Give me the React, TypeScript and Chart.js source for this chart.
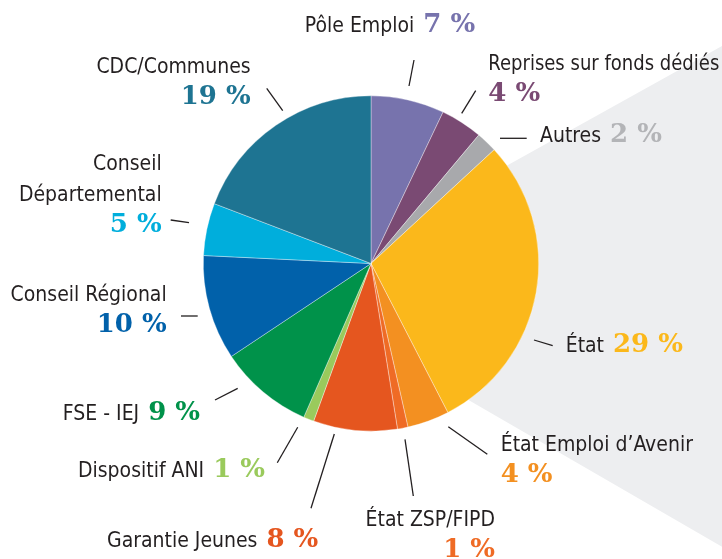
import React, { useEffect, useRef } from "react";
import { Chart, registerables } from "chart.js";

Chart.register(...registerables);

const categories = [
  "Pôle Emploi",
  "Reprises sur fonds dédiés",
  "Autres",
  "État",
  "État Emploi d’Avenir",
  "État ZSP/FIPD",
  "Garantie Jeunes",
  "Dispositif ANI",
  "FSE - IEJ",
  "Conseil Régional",
  "Conseil Départemental",
  "CDC/Communes",
];
const shares = [7, 4, 2, 29, 4, 1, 8, 1, 9, 10, 5, 19];
const pctLabels = shares.map((v) => `${v} %`);

const sliceColors = [
  "#7773AD", "#7A4A73", "#A8A9AC", "#FBB81B", "#F39021", "#EF6B25",
  "#E5561F", "#9ACA5C", "#00924A", "#0161AA", "#00AEDC", "#1E7492",
];
const pctColors = [
  "#7773AD", "#7A4A73", "#B3B4B7", "#FBB81B", "#F39021", "#EF6B25",
  "#E5561F", "#9ACA5C", "#00924A", "#0161AA", "#00AEDC", "#1E7492",
];

// text lines of each label (name split onto lines)
const nameLines = [
  ["Pôle Emploi"],
  ["Reprises sur fonds dédiés"],
  ["Autres"],
  ["État"],
  ["État Emploi d’Avenir"],
  ["État ZSP/FIPD"],
  ["Garantie Jeunes"],
  ["Dispositif ANI"],
  ["FSE - IEJ"],
  ["Conseil Régional"],
  ["Conseil", "Départemental"],
  ["CDC/Communes"],
];
const pctInline = [true, false, true, true, false, false, true, true, true, false, false, false];

// layout: offsets relative to pie centre (x, first baseline y, alignment, max text width)
const labelLayout = [
  { x: 19, y: -231.8, align: "center", maxW: 0 },
  { x: 117.3, y: -193.5, align: "left", maxW: 231 },
  { x: 169, y: -121.8, align: "left", maxW: 0 },
  { x: 194.7, y: 88.8, align: "left", maxW: 0 },
  { x: 129.7, y: 187.2, align: "left", maxW: 0 },
  { x: 124, y: 262.5, align: "right", maxW: 0 },
  { x: -52.7, y: 283.2, align: "right", maxW: 0 },
  { x: -106, y: 213.8, align: "right", maxW: 0 },
  { x: -171, y: 156.5, align: "right", maxW: 0 },
  { x: -204.3, y: 37.5, align: "right", maxW: 0 },
  { x: -209.3, y: -93.5, align: "right", maxW: 0 },
  { x: -120.3, y: -190.2, align: "right", maxW: 0 },
];
const leaderLines = [
  [43, -203.5, 38, -177.5],
  [104.7, -172.8, 90.7, -150.2],
  [129, -125.2, 155.7, -125.2],
  [163, 76.5, 181.7, 82.2],
  [77.3, 163.2, 116.3, 190.8],
  [34, 175.8, 42.3, 232.5],
  [-36.7, 170.5, -60, 244.8],
  [-73.3, 163.8, -93.7, 199.2],
  [-133.3, 124.8, -156, 136.5],
  [-190, 52.5, -173.3, 52.5],
  [-200.3, -43.5, -182, -40.8],
  [-104.3, -175.2, -88.3, -152.8],
];
// grey backdrop polygon (relative to centre; "R" = right canvas edge)
const backdrop = [
  [0, 0],
  [119, -88.5],
  ["R", -217.5],
  ["R", 283.2],
  [91, 132.7],
];

const NAME_FONT = '21px "DejaVu Sans Condensed", "DejaVu Sans", sans-serif';
const PCT_FONT = 'bold 26px "DejaVu Serif", serif';
const LINE_H = 31;
const GAP = 9;

const decorPlugin = {
  id: "decor",
  beforeDatasetsDraw(chart: any) {
    const arc = chart.getDatasetMeta(0).data[0];
    if (!arc) return;
    const { x: cx, y: cy } = arc;
    const ctx = chart.ctx;
    const W = chart.width;
    ctx.save();
    ctx.fillStyle = "#EDEEF0";
    ctx.beginPath();
    backdrop.forEach((p, i) => {
      const px = p[0] === "R" ? W : cx + (p[0] as number);
      const py = cy + (p[1] as number);
      if (i === 0) ctx.moveTo(px, py);
      else ctx.lineTo(px, py);
    });
    ctx.closePath();
    ctx.fill();
    ctx.restore();
  },
  afterDatasetsDraw(chart: any) {
    const arc = chart.getDatasetMeta(0).data[0];
    if (!arc) return;
    const { x: cx, y: cy } = arc;
    const ctx = chart.ctx;
    ctx.save();
    ctx.strokeStyle = "#231F20";
    ctx.lineWidth = 1.3;
    leaderLines.forEach((l) => {
      ctx.beginPath();
      ctx.moveTo(cx + l[0], cy + l[1]);
      ctx.lineTo(cx + l[2], cy + l[3]);
      ctx.stroke();
    });
    ctx.textBaseline = "alphabetic";
    ctx.textAlign = "left";
    categories.forEach((_, i) => {
      const lay = labelLayout[i];
      const lines: { segs: { t: string; font: string; color: string }[] }[] = nameLines[i].map((t) => ({
        segs: [{ t, font: NAME_FONT, color: "#231F20" }],
      }));
      const pctSeg = { t: pctLabels[i], font: PCT_FONT, color: pctColors[i] };
      if (pctInline[i]) lines[lines.length - 1].segs.push(pctSeg);
      else lines.push({ segs: [pctSeg] });
      lines.forEach((line, li) => {
        const widths = line.segs.map((s) => {
          ctx.font = s.font;
          const w = ctx.measureText(s.t).width;
          return lay.maxW && w > lay.maxW ? lay.maxW : w;
        });
        const total = widths.reduce((a, b) => a + b, 0) + GAP * (line.segs.length - 1);
        const ax = cx + lay.x;
        let x = lay.align === "left" ? ax : lay.align === "right" ? ax - total : ax - total / 2;
        const y = cy + lay.y + li * LINE_H;
        line.segs.forEach((s, si) => {
          ctx.font = s.font;
          ctx.fillStyle = s.color;
          if (lay.maxW) ctx.fillText(s.t, x, y, lay.maxW);
          else ctx.fillText(s.t, x, y);
          x += widths[si] + GAP;
        });
      });
    });
    ctx.restore();
  },
};

export default function App() {
  const ref = useRef<HTMLCanvasElement | null>(null);
  useEffect(() => {
    document.body.style.margin = "0";
    const canvas = ref.current;
    if (!canvas) return;
    const chart = new Chart(canvas, {
      type: "pie",
      data: {
        labels: categories,
        datasets: [
          {
            data: shares,
            backgroundColor: sliceColors,
            borderColor: "rgba(255,255,255,0.6)",
            borderWidth: 0.6,
          },
        ],
      },
      options: {
        responsive: false,
        animation: false,
        layout: { padding: { top: 95.5, bottom: 127.5, left: 100, right: 80 } },
        plugins: {
          legend: { display: false },
          tooltip: { enabled: false },
        },
      },
      plugins: [decorPlugin],
    });
    return () => chart.destroy();
  }, []);
  return (
    <canvas ref={ref} width={722} height={559} style={{ display: "block", width: 722, height: 559 }} />
  );
}
